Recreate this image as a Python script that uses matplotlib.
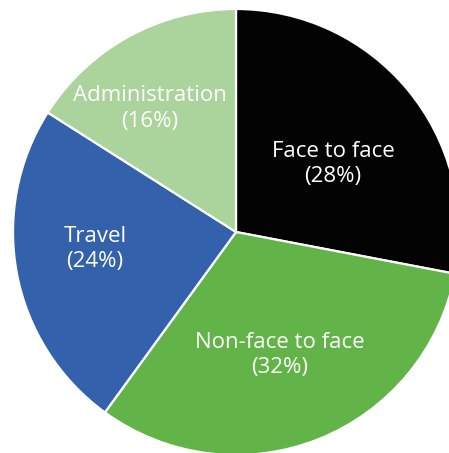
import numpy as np
import matplotlib.pyplot as plt

# data
categories = ['Face to face', 'Non-face to face', 'Travel', 'Administration']
shares = [28, 32, 24, 16]  # [%]
colors = ['#030303', '#62B448', '#3361AC', '#ABD39C']

# label placement: radius fraction and angle offset [deg] per wedge
label_radius = [0.531, 0.586, 0.637, 0.674]
label_shift = [-4.6, -1.9, -3.9, 6.2]

W, H = 449, 453
fig = plt.figure(figsize=(W/100, H/100), dpi=100)
ax = fig.add_axes([0, 0, 1, 1])

cx, cy, r = 236, H - 232, 223
wedges, _ = ax.pie(shares, colors=colors, startangle=90, counterclock=False,
                   center=(cx, cy), radius=r,
                   wedgeprops=dict(edgecolor='white', linewidth=1.6))

for w, name, s, rf, sh in zip(wedges, categories, shares, label_radius, label_shift):
    ang = np.deg2rad((w.theta1 + w.theta2) / 2 + sh)
    x = cx + rf * r * np.cos(ang)
    y = cy + rf * r * np.sin(ang)
    ax.text(x, y, '%s\n(%d%%)' % (name, s), ha='center', va='center',
            color='white', fontsize=16, family='Open Sans', linespacing=1.3)

ax.set_xlim(0, W)
ax.set_ylim(0, H)
ax.set_aspect('equal')
ax.axis('off')

fig.savefig('out.png', dpi=100)
